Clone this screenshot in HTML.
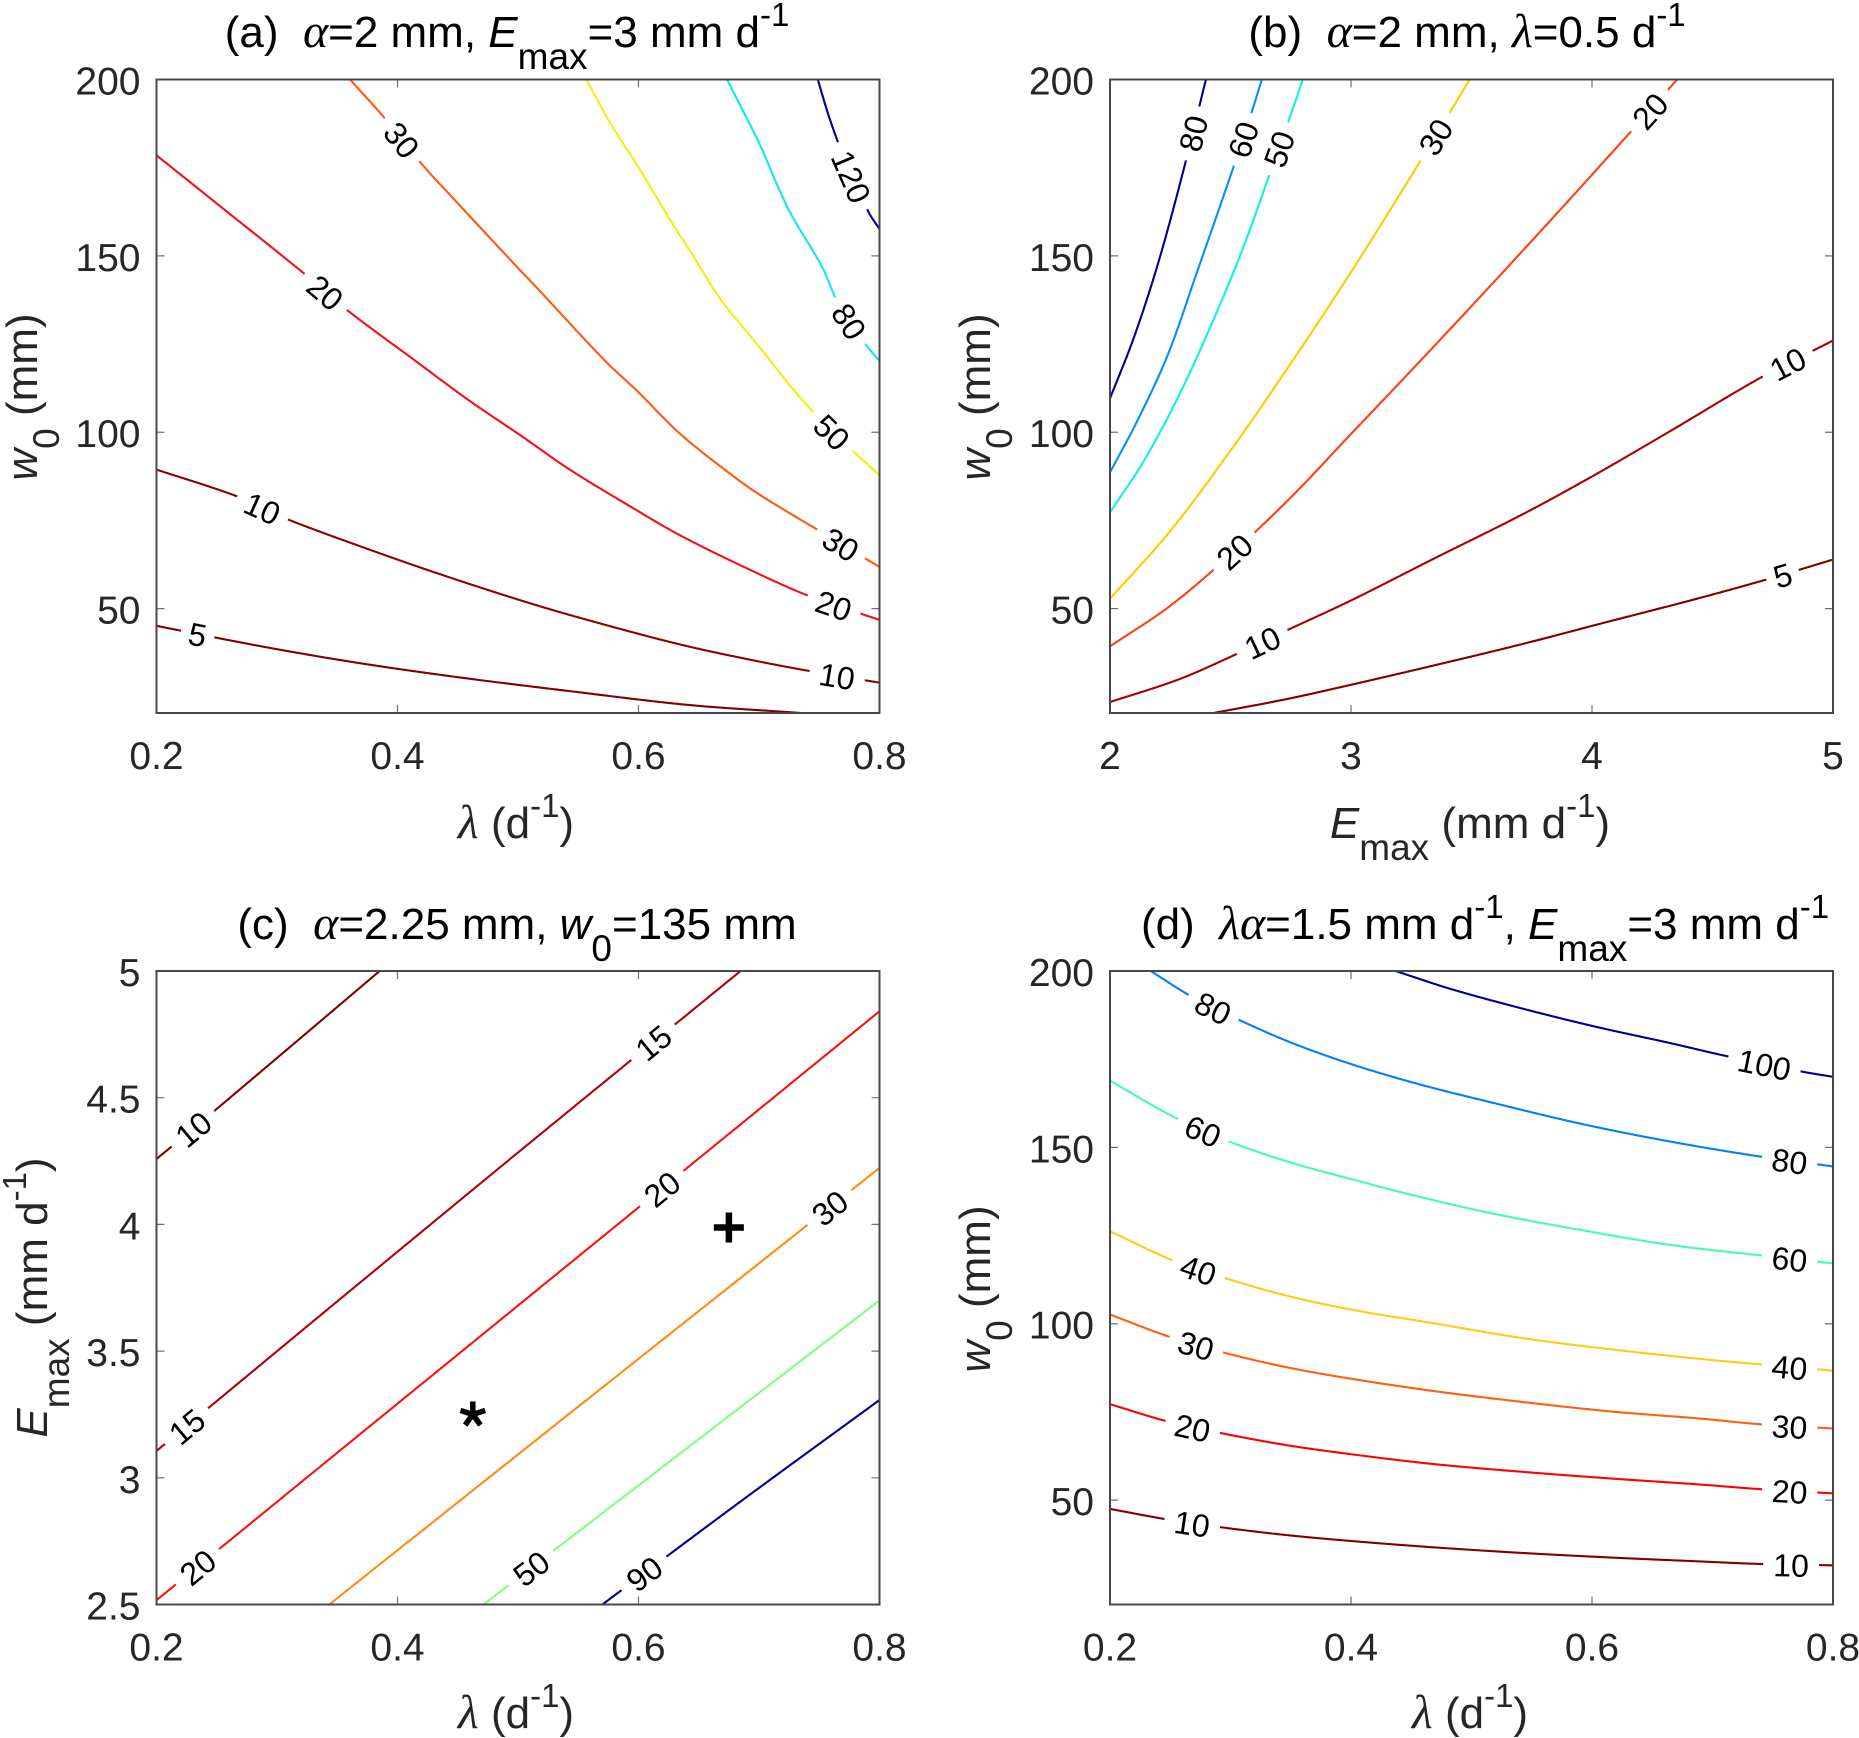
<!DOCTYPE html>
<html lang="en">
<head>
<meta charset="utf-8">
<title>Contour panels</title>
<style>
html,body{margin:0;padding:0;background:#fff;}
svg{display:block;}
text{font-family:"Liberation Sans",Arial,sans-serif;fill:#262626;white-space:pre;}
.title,.axlabel{font-size:44px;}
.title{fill:#000;}
.greek{font-family:"Liberation Serif",serif;font-style:italic;font-size:48px;}
.it{font-style:italic;}
</style>
</head>
<body>
<svg id="fig" xmlns="http://www.w3.org/2000/svg" width="1859" height="1738" viewBox="0 0 1859 1738">
<rect x="0" y="0" width="1859" height="1738" fill="#fff"/>

<text class="title" x="507" y="47" text-anchor="middle" xml:space="preserve">(a)  <tspan class="greek">α</tspan>=2 mm, <tspan class="it">E</tspan><tspan font-size="37" dy="22">max</tspan><tspan dy="-22">=3 mm d</tspan><tspan font-size="33" dy="-21">-1</tspan></text>
<text class="title" x="1467" y="47" text-anchor="middle" xml:space="preserve">(b)  <tspan class="greek">α</tspan>=2 mm, <tspan class="greek">λ</tspan>=0.5 d<tspan font-size="33" dy="-21">-1</tspan></text>
<text class="title" x="517" y="939" text-anchor="middle" xml:space="preserve">(c)  <tspan class="greek">α</tspan>=2.25 mm, <tspan class="it">w</tspan><tspan font-size="37" dy="22">0</tspan><tspan dy="-22">=135 mm</tspan></text>
<text class="title" x="1485" y="939" text-anchor="middle" xml:space="preserve">(d)  <tspan class="greek">λα</tspan>=1.5 mm d<tspan font-size="33" dy="-21">-1</tspan><tspan dy="21">, </tspan><tspan class="it">E</tspan><tspan font-size="37" dy="22">max</tspan><tspan dy="-22">=3 mm d</tspan><tspan font-size="33" dy="-21">-1</tspan></text>

<text class="axlabel" x="516" y="838" text-anchor="middle" xml:space="preserve"><tspan class="greek">λ</tspan> (d<tspan font-size="33" dy="-21">-1</tspan><tspan dy="21">)</tspan></text>
<text class="axlabel" x="1470" y="838" text-anchor="middle" xml:space="preserve"><tspan class="it">E</tspan><tspan font-size="37" dy="22">max</tspan><tspan dy="-22"> (mm d</tspan><tspan font-size="33" dy="-21">-1</tspan><tspan dy="21">)</tspan></text>
<text class="axlabel" x="516" y="1728" text-anchor="middle" xml:space="preserve"><tspan class="greek">λ</tspan> (d<tspan font-size="33" dy="-21">-1</tspan><tspan dy="21">)</tspan></text>
<text class="axlabel" x="1470" y="1728" text-anchor="middle" xml:space="preserve"><tspan class="greek">λ</tspan> (d<tspan font-size="33" dy="-21">-1</tspan><tspan dy="21">)</tspan></text>

<text class="axlabel" transform="translate(37,397) rotate(-90)" text-anchor="middle" xml:space="preserve"><tspan class="it">w</tspan><tspan font-size="37" dy="22">0</tspan><tspan dy="-22"> (mm)</tspan></text>
<text class="axlabel" transform="translate(990,397) rotate(-90)" text-anchor="middle" xml:space="preserve"><tspan class="it">w</tspan><tspan font-size="37" dy="22">0</tspan><tspan dy="-22"> (mm)</tspan></text>
<text class="axlabel" transform="translate(47,1297.5) rotate(-90)" text-anchor="middle" xml:space="preserve"><tspan class="it">E</tspan><tspan font-size="37" dy="22">max</tspan><tspan dy="-22"> (mm d</tspan><tspan font-size="33" dy="-21">-1</tspan><tspan dy="21">)</tspan></text>
<text class="axlabel" transform="translate(990,1289) rotate(-90)" text-anchor="middle" xml:space="preserve"><tspan class="it">w</tspan><tspan font-size="37" dy="22">0</tspan><tspan dy="-22"> (mm)</tspan></text>
</svg>

<script>
// ---- shared tick values ----
const lambdaTicks = [0.2, 0.4, 0.6, 0.8];
const lambdaTickLabels = ['0.2', '0.4', '0.6', '0.8'];
const w0Ticks = [50, 100, 150, 200];
const w0TickLabels = ['50', '100', '150', '200'];
const emaxXTicks = [2, 3, 4, 5];
const emaxXTickLabels = ['2', '3', '4', '5'];
const emaxYTicks = [2.5, 3, 3.5, 4, 4.5, 5];
const emaxYTickLabels = ['2.5', '3', '3.5', '4', '4.5', '5'];

// ---- panel (a): lambda vs w0 ----
const a5X = [0.2, 0.287, 0.3655, 0.449, 0.543, 0.641, 0.735];
const a5Y = [45.1, 39.3, 34.7, 30.6, 26.6, 22.7, 20.4];
const a10X = [0.2, 0.267, 0.306, 0.3655, 0.434, 0.513, 0.582, 0.641, 0.7, 0.742, 0.8];
const a10Y = [89.4, 81.8, 75.7, 68.1, 59.9, 51.2, 44.5, 39.3, 35, 32.3, 29];
const a20X = [0.2, 0.252, 0.321, 0.356, 0.415, 0.459, 0.503, 0.543, 0.592, 0.636, 0.7, 0.745, 0.8];
const a20Y = [178.5, 164.3, 145.4, 135.2, 120.2, 109.1, 98.9, 89.4, 79.2, 70.5, 59.8, 53.1, 46.8];
const a30X = [0.3606, 0.39, 0.4197, 0.4517, 0.501, 0.5158, 0.5724, 0.5995, 0.634, 0.6734, 0.7005, 0.7497, 0.8];
const a30Y = [200, 188.8, 176.2, 164.3, 146.2, 140.9, 120.2, 111.5, 99.7, 88.9, 82.3, 72.1, 61.8];
const a50X = [0.5567, 0.5773, 0.5995, 0.6266, 0.6463, 0.6685, 0.7005, 0.73, 0.7596, 0.8];
const a50Y = [200, 187.2, 175.4, 160, 149.5, 137.5, 124.1, 111.5, 100.5, 87.8];
const a80X = [0.6734, 0.7005, 0.7153, 0.7276, 0.7522, 0.7645, 0.7867, 0.8];
const a80Y = [200, 181.7, 169.9, 161.2, 147, 137.5, 125.7, 120.2];
const a120X = [0.7488, 0.7572, 0.767, 0.7793, 0.7916, 0.8];
const a120Y = [200, 190.4, 180.9, 170.7, 162, 157.6];

// ---- panel (b): Emax vs w0 ----
const b5X = [2.43, 2.73, 3.0, 3.345, 3.714, 4.034, 4.452, 4.747, 5];
const b5Y = [20.4, 24.3, 28.4, 33.9, 40, 45.7, 53.1, 58.7, 63.9];
const b10X = [2, 2.288, 2.534, 2.755, 3, 3.345, 3.714, 4.009, 4.329, 4.698, 5];
const b10Y = [23.5, 30, 37.4, 44.5, 52.3, 64.2, 76.8, 87.8, 100.5, 115.4, 126];
const b20X = [2, 2.25, 2.5, 2.75, 3, 3.25, 3.5, 3.75, 4, 4.25, 4.353];
const b20Y = [39.3, 50.8, 65.3, 81.5, 99.5, 117.5, 135.75, 154.25, 173, 192, 200];
const b30X = [2, 2.25, 2.5, 2.75, 3, 3.25, 3.493];
const b30Y = [52.8, 72, 94.8, 119.5, 145.4, 172.7, 200];
const b50X = [2, 2.14, 2.288, 2.435, 2.558, 2.669, 2.755, 2.8];
const b50Y = [77.3, 91.8, 110.7, 132.8, 153.3, 174.5, 191, 200];
const b60X = [2, 2.116, 2.239, 2.361, 2.509, 2.595, 2.63];
const b60Y = [88.6, 103.6, 121.8, 145.4, 174.5, 192.3, 200];
const b80X = [2, 2.1, 2.2, 2.3, 2.398];
const b80Y = [109.6, 127, 148, 173, 200];

// ---- panel (c): lambda vs Emax ----
const c10X = [0.2, 0.2498, 0.3852];
const c10Y = [4.258, 4.455, 5];
const c15X = [0.2, 0.3655, 0.5132, 0.6847];
const c15Y = [3.106, 3.757, 4.335, 5];
const c20X = [0.2, 0.3655, 0.5626, 0.8];
const c20Y = [2.517, 3.159, 3.922, 4.841];
const c30X = [0.3434, 0.464, 0.6118, 0.8];
const c30Y = [2.5, 2.956, 3.514, 4.223];
const c50X = [0.4714, 0.6118, 0.8];
const c50Y = [2.5, 3.013, 3.7];
const c90X = [0.57, 0.6857, 0.8];
const c90Y = [2.5, 2.91, 3.307];
const starPoint = [0.4625, 3.25];
const plusPoint = [0.675, 3.988];

// ---- panel (d): lambda vs w0 ----
const d10X = [0.2, 0.2477, 0.292, 0.3461, 0.4002, 0.469, 0.5428, 0.6166, 0.6903, 0.7395, 0.8];
const d10Y = [47.5, 44.5, 42.3, 40.1, 38.4, 36.6, 35, 33.7, 32.6, 31.9, 31.5];
const d20X = [0.2, 0.2477, 0.292, 0.3461, 0.4002, 0.469, 0.5428, 0.6166, 0.6903, 0.7395, 0.8];
const d20Y = [77.2, 72.3, 69, 65.6, 63, 60.2, 58, 56.1, 54.4, 53.1, 51.9];
const d30X = [0.2, 0.2526, 0.2969, 0.3461, 0.4002, 0.469, 0.5428, 0.6166, 0.6903, 0.7395, 0.8];
const d30Y = [102.6, 95.9, 91.6, 87.7, 84.4, 80.9, 77.8, 75.1, 73.1, 71.5, 70.3];
const d40X = [0.2, 0.2526, 0.2969, 0.3461, 0.4002, 0.469, 0.5428, 0.6166, 0.6903, 0.7395, 0.8];
const d40Y = [126.2, 117.9, 112.8, 108, 104, 100.1, 95.9, 92.7, 90, 88.5, 86.7];
const d60X = [0.2, 0.2526, 0.3018, 0.351, 0.4002, 0.4543, 0.5182, 0.592, 0.6657, 0.7395, 0.8];
const d60Y = [168.9, 158.7, 151.3, 145.6, 141, 136.2, 131.2, 126.5, 122.3, 119.4, 117.1];
const d80X = [0.2339, 0.2674, 0.3067, 0.351, 0.4002, 0.4543, 0.5182, 0.592, 0.6657, 0.7395, 0.8];
const d80Y = [200, 192.8, 186.2, 179.6, 173.6, 168.1, 162.6, 156.6, 151.6, 147.4, 144.6];
const d100X = [0.437, 0.4838, 0.5428, 0.6018, 0.6657, 0.71, 0.7739, 0.8];
const d100Y = [200, 194.8, 189.3, 184.3, 179.5, 176, 171.5, 170];

// ---- where along each contour (x value) its labels sit ----
const a5Labels = [0.234];
const a10Labels = [0.288, 0.7645];
const a20Labels = [0.34, 0.762];
const a30Labels = [0.404, 0.768];
const a50Labels = [0.7607];
const a80Labels = [0.775];
const a120Labels = [0.777];
const b5Labels = [4.789];
const b10Labels = [2.632, 4.81];
const b20Labels = [2.514, 4.238];
const b30Labels = [3.35];
const b50Labels = [2.7];
const b60Labels = [2.55];
const b80Labels = [2.343];
const c10Labels = [0.23];
const c15Labels = [0.225, 0.612];
const c20Labels = [0.234, 0.6192];
const c30Labels = [0.7586];
const c50Labels = [0.5108];
const c90Labels = [0.6044];
const d10Labels = [0.2684, 0.7651];
const d20Labels = [0.2689, 0.7641];
const d30Labels = [0.2713, 0.7641];
const d40Labels = [0.2733, 0.7641];
const d60Labels = [0.2772, 0.7641];
const d80Labels = [0.2856, 0.7641];
const d100Labels = [0.7434];

const NS = 'http://www.w3.org/2000/svg';
const svg = document.getElementById('fig');
const AXIS_COLOR = '#484848';
const TICK_COLOR = '#707070';

function makeAxis(left, right, top, bottom, xMin, xMax, yMin, yMax) {
  return {
    left: left, right: right, top: top, bottom: bottom,
    x: function (v) { return left + (v - xMin) / (xMax - xMin) * (right - left); },
    y: function (v) { return bottom - (v - yMin) / (yMax - yMin) * (bottom - top); }
  };
}

function drawFrame(prefix, ax, xTicks, xLabels, yTicks, yLabels) {
  const g = document.createElementNS(NS, 'g');
  
  
  svg.appendChild(g);
  const tickLen = 8;
  xTicks.forEach(function (t, i) {
    const px = ax.x(t);
    const tick = document.createElementNS(NS, 'path');
    
    
    tick.setAttribute('d', 'M' + px + ' ' + ax.bottom + 'v' + (-tickLen) + 'M' + px + ' ' + ax.top + 'v' + tickLen);
    tick.setAttribute('stroke', TICK_COLOR);
    tick.setAttribute('stroke-width', '1.2');
    tick.setAttribute('fill', 'none');
    g.appendChild(tick);
    const label = document.createElementNS(NS, 'text');
    
    
    label.setAttribute('x', px);
    label.setAttribute('y', ax.bottom + 56);
    label.setAttribute('text-anchor', 'middle');
    label.setAttribute('font-size', '39');
    label.textContent = xLabels[i];
    g.appendChild(label);
  });
  yTicks.forEach(function (t, i) {
    const py = ax.y(t);
    const tick = document.createElementNS(NS, 'path');
    
    
    tick.setAttribute('d', 'M' + ax.left + ' ' + py + 'h' + tickLen + 'M' + ax.right + ' ' + py + 'h' + (-tickLen));
    tick.setAttribute('stroke', TICK_COLOR);
    tick.setAttribute('stroke-width', '1.2');
    tick.setAttribute('fill', 'none');
    g.appendChild(tick);
    const label = document.createElementNS(NS, 'text');
    
    
    label.setAttribute('x', ax.left - 16);
    label.setAttribute('y', py + 15);
    label.setAttribute('text-anchor', 'end');
    label.setAttribute('font-size', '39');
    label.textContent = yLabels[i];
    g.appendChild(label);
  });
  const box = document.createElementNS(NS, 'rect');
  
  
  box.setAttribute('x', ax.left);
  box.setAttribute('y', ax.top);
  box.setAttribute('width', ax.right - ax.left);
  box.setAttribute('height', ax.bottom - ax.top);
  box.setAttribute('fill', 'none');
  box.setAttribute('stroke', AXIS_COLOR);
  box.setAttribute('stroke-width', '2');
  g.appendChild(box);
}

// Smooth the read points with a geometric Hermite spline, sampled roughly every pixel.
function resample(points) {
  const out = [];
  const last = points.length - 1;
  const tangent = function (i) {
    const a = points[Math.max(0, i - 1)];
    const b = points[Math.min(last, i + 1)];
    const len = Math.hypot(b[0] - a[0], b[1] - a[1]) || 1;
    return [(b[0] - a[0]) / len, (b[1] - a[1]) / len];
  };
  for (let i = 0; i < last; i++) {
    const p = points[i];
    const q = points[i + 1];
    const seg = Math.hypot(q[0] - p[0], q[1] - p[1]);
    const n = Math.max(1, Math.ceil(seg));
    const t0 = tangent(i);
    const t1 = tangent(i + 1);
    for (let k = 0; k < n; k++) {
      const u = k / n;
      const h00 = 2 * u * u * u - 3 * u * u + 1;
      const h10 = u * u * u - 2 * u * u + u;
      const h01 = -2 * u * u * u + 3 * u * u;
      const h11 = u * u * u - u * u;
      out.push([
        h00 * p[0] + h10 * seg * t0[0] + h01 * q[0] + h11 * seg * t1[0],
        h00 * p[1] + h10 * seg * t0[1] + h01 * q[1] + h11 * seg * t1[1]
      ]);
    }
  }
  out.push(points[last]);
  return out;
}

function drawContour(prefix, ax, level, xs, ys, labelsAt, color) {
  const pts = xs.map(function (v, i) { return [ax.x(v), ax.y(ys[i])]; });
  const dense = resample(pts);
  const text = String(level);
  const radius = text.length === 1 ? 16 : (text.length === 2 ? 27 : 36);
  const centers = labelsAt.map(function (at) {
    const target = ax.x(at);
    let best = 0;
    dense.forEach(function (p, i) {
      if (Math.abs(p[0] - target) < Math.abs(dense[best][0] - target)) { best = i; }
    });
    return best;
  });
  let d = '';
  let pen = false;
  dense.forEach(function (p) {
    const hidden = centers.some(function (c) {
      return Math.hypot(p[0] - dense[c][0], p[1] - dense[c][1]) < radius;
    });
    if (hidden) { pen = false; return; }
    d += (pen ? 'L' : 'M') + p[0].toFixed(2) + ' ' + p[1].toFixed(2);
    pen = true;
  });
  const path = document.createElementNS(NS, 'path');
  
  
  path.setAttribute('d', d);
  path.setAttribute('fill', 'none');
  path.setAttribute('stroke', color);
  path.setAttribute('stroke-width', '2.1');
  svg.appendChild(path);
  centers.forEach(function (c) {
    const a = dense[Math.max(0, c - 30)];
    const b = dense[Math.min(dense.length - 1, c + 30)];
    let angle = Math.atan2(b[1] - a[1], b[0] - a[0]) * 180 / Math.PI;
    if (angle > 90) { angle -= 180; }
    if (angle < -90) { angle += 180; }
    const label = document.createElementNS(NS, 'text');
    
    
    label.setAttribute('transform', 'translate(' + dense[c][0].toFixed(2) + ',' + dense[c][1].toFixed(2) + ') rotate(' + angle.toFixed(1) + ')');
    label.setAttribute('y', '12');
    label.setAttribute('text-anchor', 'middle');
    label.setAttribute('font-size', '32');
    label.style.fill = '#000';
    label.textContent = text;
    svg.appendChild(label);
  });
}

const axA = makeAxis(156.5, 879.5, 79.5, 713, 0.2, 0.8, 20.4, 200);
const axB = makeAxis(1110, 1833, 79.5, 713, 2, 5, 20.4, 200);
const axC = makeAxis(156.5, 879.5, 971, 1604.5, 0.2, 0.8, 2.5, 5);
const axD = makeAxis(1110, 1833, 971, 1604.5, 0.2, 0.8, 20.4, 200);

drawContour('a', axA, 5, a5X, a5Y, a5Labels, '#7f0000');
drawContour('a', axA, 10, a10X, a10Y, a10Labels, '#8f0000');
drawContour('a', axA, 20, a20X, a20Y, a20Labels, '#f5101a');
drawContour('a', axA, 30, a30X, a30Y, a30Labels, '#ff5a10');
drawContour('a', axA, 50, a50X, a50Y, a50Labels, '#f2ef10');
drawContour('a', axA, 80, a80X, a80Y, a80Labels, '#10e6f5');
drawContour('a', axA, 120, a120X, a120Y, a120Labels, '#000090');

drawContour('b', axB, 5, b5X, b5Y, b5Labels, '#7f0000');
drawContour('b', axB, 10, b10X, b10Y, b10Labels, '#a80000');
drawContour('b', axB, 20, b20X, b20Y, b20Labels, '#ff4010');
drawContour('b', axB, 30, b30X, b30Y, b30Labels, '#ffcc00');
drawContour('b', axB, 50, b50X, b50Y, b50Labels, '#10f0e6');
drawContour('b', axB, 60, b60X, b60Y, b60Labels, '#0090ff');
drawContour('b', axB, 80, b80X, b80Y, b80Labels, '#000090');

drawContour('c', axC, 10, c10X, c10Y, c10Labels, '#800000');
drawContour('c', axC, 15, c15X, c15Y, c15Labels, '#b00010');
drawContour('c', axC, 20, c20X, c20Y, c20Labels, '#ff1010');
drawContour('c', axC, 30, c30X, c30Y, c30Labels, '#ff8c10');
drawContour('c', axC, 50, c50X, c50Y, c50Labels, '#80ff80');
drawContour('c', axC, 90, c90X, c90Y, c90Labels, '#000090');

drawContour('d', axD, 10, d10X, d10Y, d10Labels, '#800000');
drawContour('d', axD, 20, d20X, d20Y, d20Labels, '#ff0000');
drawContour('d', axD, 30, d30X, d30Y, d30Labels, '#ff6010');
drawContour('d', axD, 40, d40X, d40Y, d40Labels, '#ffcc10');
drawContour('d', axD, 60, d60X, d60Y, d60Labels, '#40ffb0');
drawContour('d', axD, 80, d80X, d80Y, d80Labels, '#0080ff');
drawContour('d', axD, 100, d100X, d100Y, d100Labels, '#000090');

drawFrame('a', axA, lambdaTicks, lambdaTickLabels, w0Ticks, w0TickLabels);
drawFrame('b', axB, emaxXTicks, emaxXTickLabels, w0Ticks, w0TickLabels);
drawFrame('c', axC, lambdaTicks, lambdaTickLabels, emaxYTicks, emaxYTickLabels);
drawFrame('d', axD, lambdaTicks, lambdaTickLabels, w0Ticks, w0TickLabels);

// star marker
const starX = axC.x(starPoint[0]);
const starY = axC.y(starPoint[1]);
let starD = '';
for (let i = 0; i < 5; i++) {
  const t = (-90 + i * 72) * Math.PI / 180;
  starD += 'M' + starX + ' ' + starY + 'L' + (starX + 13 * Math.cos(t)).toFixed(2) + ' ' + (starY + 13 * Math.sin(t)).toFixed(2);
}
const star = document.createElementNS(NS, 'path');


star.setAttribute('d', starD);
star.setAttribute('stroke', '#000');
star.setAttribute('stroke-width', '5.5');
star.setAttribute('fill', 'none');
svg.appendChild(star);

// plus marker
const plusX = axC.x(plusPoint[0]);
const plusY = axC.y(plusPoint[1]);
const plus = document.createElementNS(NS, 'path');


plus.setAttribute('d', 'M' + (plusX - 15) + ' ' + plusY + 'h30M' + plusX + ' ' + (plusY - 15) + 'v30');
plus.setAttribute('stroke', '#000');
plus.setAttribute('stroke-width', '6.5');
plus.setAttribute('fill', 'none');
svg.appendChild(plus);
</script>
</body>
</html>
